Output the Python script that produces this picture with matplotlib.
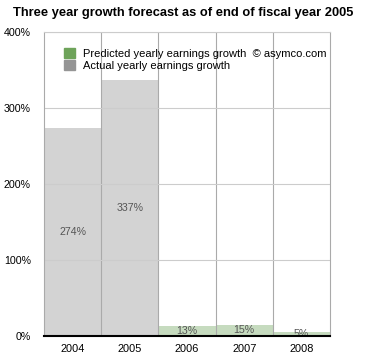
import matplotlib
matplotlib.use('Agg')
import matplotlib.pyplot as plt
import matplotlib.patches as mpatches
import numpy as np

years = ['2004', '2005', '2006', '2007', '2008']
actual = [274, 337, 0, 0, 0]
predicted = [0, 0, 13, 15, 5]
labels = ['274%', '337%', '13%', '15%', '5%']
yticks = [0, 100, 200, 300, 400]

plt.rcParams['font.family'] = ['Liberation Sans', 'DejaVu Sans']

fig = plt.figure(figsize=(3.66, 3.55), dpi=100)
ax = fig.add_axes([0.120, 0.0535, 0.782, 0.857])

x = np.arange(len(years))
ax.bar(x, actual, width=1.0, color='#d3d3d3', zorder=1)
ax.bar(x, predicted, width=1.0, color='#c6dbbf', zorder=1)

# value labels in the middle of each bar
for i, lab in enumerate(labels):
    v = actual[i] + predicted[i]
    ax.text(x[i], v / 2, lab, ha='center', va='center', fontsize=7.7,
            color='#555555', zorder=3)

ax.set_xlim(-0.5, len(years) - 0.5)
ax.set_ylim(0, 400)
ax.set_xticks(x)
ax.set_xticklabels(years, fontsize=7.9)
ax.set_yticks(yticks)
ax.set_yticklabels(['%d%%' % t for t in yticks], fontsize=7.7)
ax.tick_params(length=0)
ax.xaxis.set_tick_params(pad=6)
ax.yaxis.set_tick_params(pad=9.5)

# grid over the bars
for b in np.arange(0.5, len(years) - 0.5, 1):
    ax.axvline(b, color='#aaaaaa', lw=0.8, zorder=2)
for t in yticks[1:]:
    ax.axhline(t, color='#cccccc', lw=0.8, zorder=2)

for s in ['left', 'right', 'top']:
    ax.spines[s].set_color('#aaaaaa')
    ax.spines[s].set_linewidth(0.8)
ax.spines['top'].set_color('#cccccc')
ax.spines['bottom'].set_color('black')
ax.spines['bottom'].set_linewidth(1.5)
ax.spines['bottom'].set_zorder(4)

handles = [mpatches.Patch(color='#6ea35a'), mpatches.Patch(color='#959595')]
ax.legend(handles, ['Predicted yearly earnings growth  \u00a9 asymco.com',
                    'Actual yearly earnings growth'],
          loc='upper left', bbox_to_anchor=(0.04, 0.975), frameon=False,
          fontsize=8.0, handlelength=0.95, handleheight=0.95, handletextpad=0.75,
          labelspacing=0.1, borderpad=0.3)

fig.text(0.5, 0.963, 'Three year growth forecast as of end of fiscal year 2005',
         ha='center', va='center', fontsize=9.3, fontweight='bold')

fig.savefig('out.png', dpi=100)
